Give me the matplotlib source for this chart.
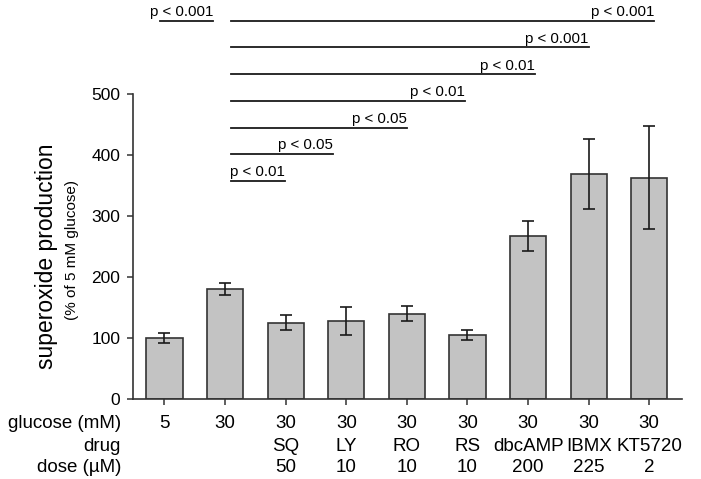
import numpy as np
import matplotlib
matplotlib.use("Agg")
import matplotlib.pyplot as plt
import matplotlib.transforms as mtransforms

plt.rcParams['font.family'] = ['Liberation Sans', 'DejaVu Sans']

# Superoxide production per condition (% of 5 mM glucose)
glucose = ['5', '30', '30', '30', '30', '30', '30', '30', '30']
drugs = ['', '', 'SQ', 'LY', 'RO', 'RS', 'dbcAMP', 'IBMX', 'KT5720']
doses = ['', '', '50', '10', '10', '10', '200', '225', '2']
means = [100, 180, 125, 128, 140, 105, 267, 369, 363]
errs = [8, 10, 12, 23, 12, 8, 25, 57, 85]

# significance brackets: (start, end) in bar index units, height, label
comp_start = [-0.07, 1.09, 1.09, 1.09, 1.09, 1.09, 1.09, 1.09]
comp_end = [0.80, 8.08, 7.00, 6.11, 4.96, 4.00, 2.78, 1.99]
comp_y = [620, 620, 577, 533, 489, 445, 402, 358]
comp_text = ['p < 0.001', 'p < 0.001', 'p < 0.001', 'p < 0.01',
             'p < 0.01', 'p < 0.05', 'p < 0.05', 'p < 0.01']

edge = '#333333'

fig = plt.figure(figsize=(7.01, 4.79), dpi=100)
ax = fig.add_axes([0.1897, 0.1670, 0.7832, 0.6367])

x = np.arange(len(means))
ax.bar(x, means, width=0.6, color='#c3c3c3', edgecolor=edge, linewidth=1.2)
ax.errorbar(x, means, yerr=errs, fmt='none', ecolor='#1a1a1a',
            elinewidth=1.2, capsize=4.5, capthick=1.2)

ax.set_xlim(-0.52, 8.54)
ax.set_ylim(0, 500)
ax.set_yticks([0, 100, 200, 300, 400, 500])
ax.set_xticks(x)
ax.set_xticklabels([])
ax.tick_params(axis='y', labelsize=12.5, length=4, width=1.1, color=edge, pad=5)
ax.tick_params(axis='x', length=4, width=1.1, color=edge)
for s in ['top', 'right']:
    ax.spines[s].set_visible(False)
for s in ['left', 'bottom']:
    ax.spines[s].set_color(edge)
    ax.spines[s].set_linewidth(1.2)

# rows of condition labels under the axis
data_trans = mtransforms.blended_transform_factory(ax.transData, ax.transAxes)
head_trans = mtransforms.blended_transform_factory(fig.transFigure, ax.transAxes)
row_y = [-0.079, -0.157, -0.226]
rows = [glucose, drugs, doses]
row_names = ['glucose (mM)', 'drug', 'dose (µM)']
for ry, vals, name in zip(row_y, rows, row_names):
    for xi, v in zip(x, vals):
        ax.text(xi, ry, v, transform=data_trans, ha='center', va='center',
                fontsize=13.5)
    ax.text(0.1726, ry, name, transform=head_trans, ha='right', va='center',
            fontsize=13.5)

# significance lines above the bars
for xs, xe, yy, t in zip(comp_start, comp_end, comp_y, comp_text):
    ax.plot([xs, xe], [yy, yy], color='#1a1a1a', lw=1.3, clip_on=False)
    ax.annotate(t, (xe, yy), xytext=(0, 1), textcoords='offset points',
                ha='right', va='bottom', fontsize=10.8, annotation_clip=False)

fig.text(0.067, 0.466, 'superoxide production', rotation=90,
         ha='center', va='center', fontsize=16.5)
fig.text(0.103, 0.478, '(% of 5 mM glucose)', rotation=90,
         ha='center', va='center', fontsize=11)

fig.savefig('out.png', dpi=100)
